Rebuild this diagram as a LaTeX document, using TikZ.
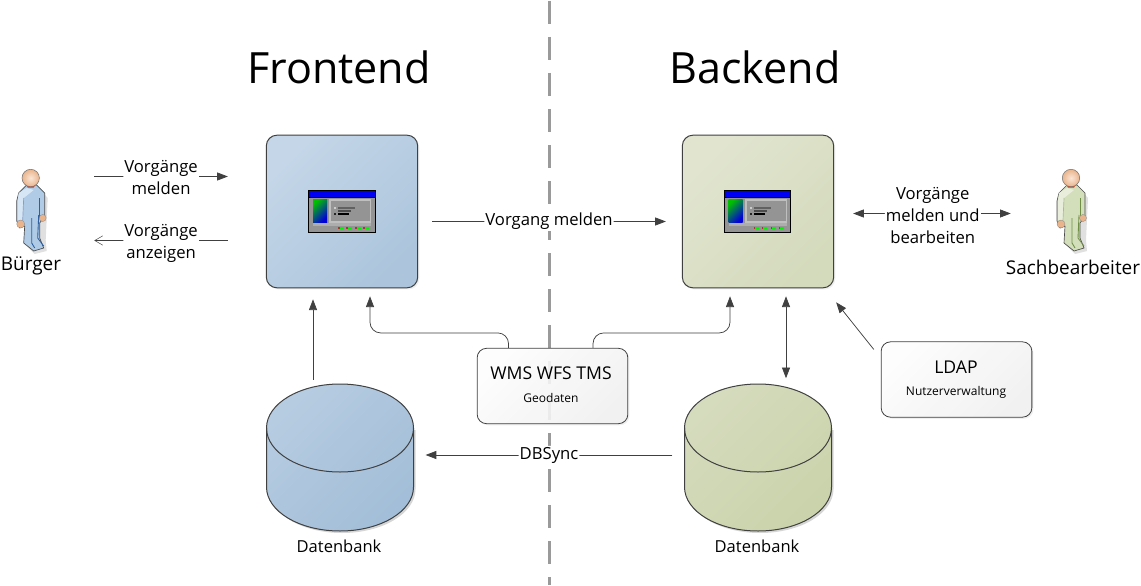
\documentclass[tikz,border=0pt]{standalone}
\usepackage{fontspec}
\setmainfont{Open Sans}
\usetikzlibrary{arrows.meta,shadows}
\definecolor{ln}{HTML}{404040}
\definecolor{dashc}{HTML}{9A9A9A}
\definecolor{fbA}{HTML}{C4D6E8}
\definecolor{fbB}{HTML}{ACC5DC}
\definecolor{bbA}{HTML}{E1E5D0}
\definecolor{bbB}{HTML}{D4DABC}
\definecolor{cfA}{HTML}{B6CCE1}
\definecolor{cfB}{HTML}{A3BED8}
\definecolor{cbA}{HTML}{D5DBBD}
\definecolor{cbB}{HTML}{CAD3AB}
\definecolor{pbBase}{HTML}{AFCBE6}
\definecolor{pbLight}{HTML}{D7E6F4}
\definecolor{pbDark}{HTML}{2E5FA0}
\definecolor{pgBase}{HTML}{D3DEBB}
\definecolor{pgLight}{HTML}{E8EEDB}
\definecolor{pgDark}{HTML}{6F8F45}
\definecolor{skinA}{HTML}{FBE6D6}
\definecolor{skinB}{HTML}{E9B48C}
\tikzset{
  x=0.75pt,y=-0.75pt,
  conn/.style={draw=ln,line width=0.55pt,rounded corners=8pt},
  tipf/.style={-{Triangle[length=8pt,width=6pt,fill=ln]}},
  tipb/.style={{Triangle[length=8pt,width=6pt,fill=ln]}-{Triangle[length=8pt,width=6pt,fill=ln]}},
  tipo/.style={-{Straight Barb[length=6pt,width=7pt,line width=0.35pt]}},
  lbl/.style={fill=white,inner sep=0.8pt,align=center,font=\fontsize{12.5}{16.5}\selectfont},
  ttl/.style={font=\fontsize{32.3}{38}\selectfont,inner sep=0pt},
  captxt/.style={font=\fontsize{12.4}{15}\selectfont,inner sep=0pt},
  perstxt/.style={font=\fontsize{14.2}{16}\selectfont,inner sep=0pt},
  subtxt/.style={font=\fontsize{9}{11}\selectfont,inner sep=0pt},
  headtxt/.style={font=\fontsize{13.2}{15}\selectfont,inner sep=0pt},
  appbox/.style={draw=ln,line width=0.75pt,rounded corners=8pt,minimum width=113.5pt,minimum height=114.5pt,inner sep=0pt,
    drop shadow={shadow xshift=1.2pt,shadow yshift=-1.2pt,opacity=0.12}},
  svcbox/.style={draw=ln,line width=0.6pt,rounded corners=7pt,minimum width=113pt,minimum height=56.5pt,inner sep=0pt,
    top color=white,bottom color=black!5,shading angle=45,fill opacity=0.88,
    drop shadow={shadow xshift=1.2pt,shadow yshift=-1.2pt,opacity=0.12},text opacity=1},
  ghost/.style={inner sep=0pt,minimum width=110pt,minimum height=111pt},
  persnode/.style={inner sep=0pt,minimum width=25.5pt,minimum height=66pt},
  pics/winicon/.style={code={
    \fill[black] (0,0) rectangle (67.5,43);
    \fill[blue!95!black] (1,1) rectangle (66.5,6.5);
    \fill[black!42] (1,7.5) rectangle (66.5,42);
    \shade[top color=green!75!black,bottom color=blue!85!black,shading angle=45] (5,9) rectangle (19,32);
    \fill[black!25] (21,9) rectangle (63,33);
    \fill[black!42] (23,11) rectangle (62,31);
    \fill[black!62] (30,17) rectangle (47,19);
    \fill[black!70] (30,20) rectangle (43,22);
    \fill[black] (30,23) rectangle (41,25);
    \fill[black!20] (26,17) rectangle (28,19);
    \fill[black!85] (26,23) rectangle (28,25);
    \fill[black!32] (5,33) rectangle (63,35.5);
    \foreach \k in {30,38,47,55}{\fill[red!60!black!80!white] (\k,36.5) rectangle ++(2,2.6);\fill[green!95!black] (\k+1.5,36.5) rectangle ++(4,2.6);}
  }},
  pics/person/.style n args={3}{code={
    \fill[black!12] (-6,66) -- (4,76) -- (16,73) -- (15,62) -- (17,20) -- (10,12) -- cycle;
    \path[draw=black!70,line width=0.5pt,line join=round,fill=#1]
      (-4,7) -- (-12,15) -- (-14,23) -- (-14,43) -- (-11,50) -- (-6,48) -- (-7,65) -- (3,73) -- (13,70)
      -- (9,60) -- (9,45) -- (14,38) -- (14,15) -- (6,7) -- cycle;
    \fill[#2] (-12,15) -- (-4,10) -- (3,12) -- (-7,20) -- (-8,42) -- (-13,42) -- (-13,23) -- cycle;
    \draw[#3!60!white,line width=0.5pt] (-7,20) -- (-8,42);
    \draw[#3,line width=0.65pt] (9,20) -- (9,40);
    \draw[#3,line width=0.65pt] (1,40) -- (1,65) -- (4,70);
    \draw[#3,line width=0.65pt] (8,37) -- (7,60) -- (13,68);
    \fill[skinB,draw=black!50,line width=0.2pt] (-10,46) circle (4);
    \fill[skinB,draw=black!50,line width=0.2pt] (12,40) circle (3.5);
    \fill[red!70!orange] (-5,6) -- (5,6) -- (3,9.5) -- (-3,9.5) -- cycle;
    \shade[inner color=skinA,outer color=skinB,draw=black!55,line width=0.4pt] (0,0) circle (8.7);
  }}
}
\begin{document}
\begin{tikzpicture}
\useasboundingbox (0,0) rectangle (1141,585);
\fill[white] (0,0) rectangle (1141,585);
% divider
\coordinate (dtop) at (549.5,1);
\coordinate (dbot) at (549.5,585);
\draw[dashc,line width=2.3pt,dash pattern=on 17pt off 10pt] (dtop) -- (dbot);
% titles
\node[ttl] (tfront) at (339,67.5) {Frontend};
\node[ttl] (tback) at (755,67.5) {Backend};
% application boxes
\node[appbox,top color=fbA,bottom color=fbB,shading angle=45] (fb) at (342,211.5) {};
\node[appbox,top color=bbA,bottom color=bbB,shading angle=45] (bb) at (758,211.5) {};
\pic at (308,190) {winicon};
\pic at (723.5,190) {winicon};
% persons
\node[persnode] (pb) at (31,211.5) {};
\node[persnode] (ps) at (1071,211.5) {};
\pic at (30.7,178) {person={pbBase}{pbLight}{pbDark}};
\begin{scope}[shift={(1071,178)},xscale=-1]
\pic at (0,0) {person={pgBase}{pgLight}{pgDark}};
\end{scope}
\node[perstxt] (lb) at (31,266) {Bürger};
\node[perstxt] (ls) at (1073,267) {Sachbearbeiter};
% databases
\node[ghost] (dbf) at (340,457.5) {};
\node[ghost] (dbb) at (758,457.5) {};
\fill[black!16] (268.5,430) -- (268.5,489) arc[start angle=180,end angle=0,x radius=73.5,y radius=44] -- (415.5,430) -- cycle;
\shade[top color=cfA,bottom color=cfB,shading angle=45,draw=ln,line width=0.75pt]
 (266.5,428) -- (266.5,487) arc[start angle=180,end angle=0,x radius=73.5,y radius=44] -- (413.5,428)
 arc[start angle=0,end angle=-180,x radius=73.5,y radius=44] -- cycle;
\draw[ln,line width=0.75pt] (266.5,428) arc[start angle=180,end angle=0,x radius=73.5,y radius=44];
\fill[black!16] (686.5,430) -- (686.5,489) arc[start angle=180,end angle=0,x radius=73.5,y radius=44] -- (833.5,430) -- cycle;
\shade[top color=cbA,bottom color=cbB,shading angle=45,draw=ln,line width=0.75pt]
 (684.5,428) -- (684.5,487) arc[start angle=180,end angle=0,x radius=73.5,y radius=44] -- (831.5,428)
 arc[start angle=0,end angle=-180,x radius=73.5,y radius=44] -- cycle;
\draw[ln,line width=0.75pt] (684.5,428) arc[start angle=180,end angle=0,x radius=73.5,y radius=44];
\node[captxt] (ldbf) at (339,546) {Datenbank};
\node[captxt] (ldbb) at (757,546) {Datenbank};
% service boxes
\node[svcbox] (wms) at (552.5,386) {};
\node[svcbox] (ldap) at (956.5,379.5) {};
\node[headtxt] (twms) at (551,373) {WMS WFS TMS};
\node[subtxt] (sgeo) at (551,398) {Geodaten};
\node[headtxt] (tldap) at (956,367) {LDAP};
\node[subtxt] (snutz) at (956,392) {Nutzerverwaltung};
% connectors
\draw[conn,tipf] ([shift={(46,-35)}]pb.east) -- node[lbl,yshift=-0.5pt]{Vorgänge\\melden} ([shift={(-38,-35)}]fb.west);
\draw[conn,tipo] ([shift={(-38,29)}]fb.west) -- node[lbl,yshift=-2pt]{Vorgänge\\anzeigen} ([shift={(46,29)}]pb.east);
\draw[conn,tipf] ([shift={(14,10)}]fb.east) -- node[lbl]{Vorgang melden} ([shift={(-16,10)}]bb.west);
\draw[conn,tipb] ([shift={(19,2)}]bb.east) -- node[lbl,xshift=0.6pt,yshift=-1.5pt]{Vorgänge\\melden und\\bearbeiten} ([shift={(-43,2)}]ps.west);
\draw[conn,tipf] ([shift={(-27,-3.5)}]dbf.north) -- ([shift={(-29,11)}]fb.south);
\draw[conn,tipf] ([shift={(-44,0)}]wms.north) -- ++(0,-15) -| ([shift={(28,8)}]fb.south);
\draw[conn,tipf] ([shift={(40.5,0)}]wms.north) -- ++(0,-15) -| ([shift={(-28,8)}]bb.south);
\draw[conn,tipb] ([shift={(28,8)}]bb.south) -- ([shift={(28,-5)}]dbb.north);
\draw[conn,tipf] ([shift={(-7,8)}]ldap.north west) -- ([shift={(2,14)}]bb.south east);
\draw[conn,tipf] ([shift={(-12,-2.5)}]dbb.west) -- node[lbl]{DBSync} ([shift={(12,-2.5)}]dbf.east);
\end{tikzpicture}
\end{document}
